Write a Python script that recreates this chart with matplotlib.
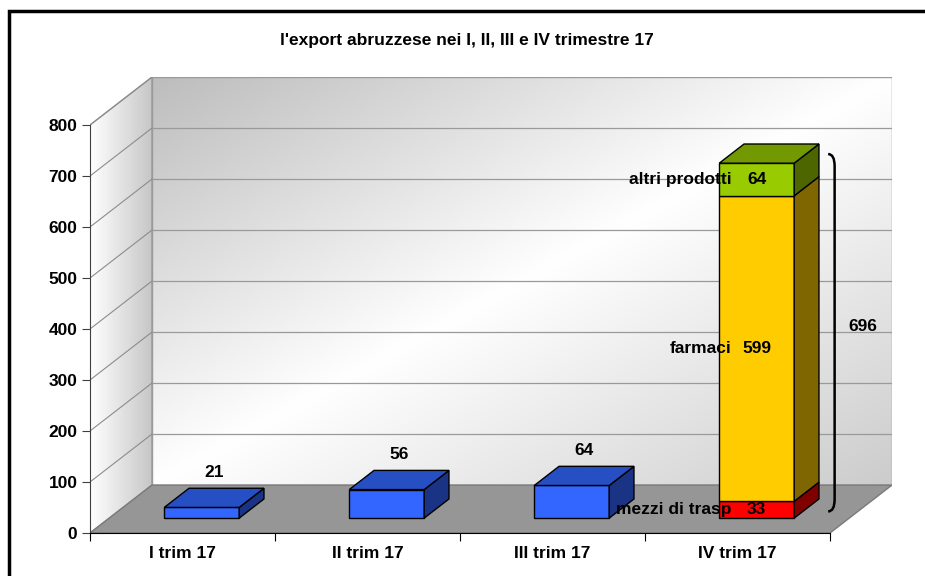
import numpy as np
import matplotlib
matplotlib.use("Agg")
import matplotlib.pyplot as plt
from matplotlib.patches import Polygon, Rectangle, PathPatch
from matplotlib.path import Path

plt.rcParams['font.family'] = ['Liberation Sans', 'DejaVu Sans']
plt.rcParams['font.weight'] = 'bold'

title = "l'export abruzzese nei I, II, III e IV trimestre 17"
categories = ["I trim 17", "II trim 17", "III trim 17", "IV trim 17"]
single_values = [21, 56, 64]          # first three quarters, one bar each
stack_names = ["mezzi di trasp", "farmaci", "altri prodotti"]
stack_values = [33, 599, 64]           # IV quarter, stacked
stack_total = 696
yticks = list(range(0, 900, 100))

# pseudo-3D geometry (data units)
DX, DY = 0.335, 94.0     # depth offset of the back wall
D0, D1 = 0.31, 0.71      # bar depth range
BW = 0.405               # bar width

blue = ('#3366ff', '#264fc4', '#1a3385')
stack_cols = [('#ff0000', '#cc0000', '#800000'),
              ('#ffcc00', '#cca300', '#806600'),
              ('#99cc00', '#739900', '#4d6600')]

fig = plt.figure(figsize=(9.25, 5.76), dpi=100)
W, H = 925, 576
xmax, ymax = 4 + DX, 800 + DY
ax = fig.add_axes([90 / W, 43 / H, xmax * 185 / W, ymax * 0.51 / H])
ax.set_xlim(0, xmax)
ax.set_ylim(0, ymax)

# back wall gradient
nx, ny = 300, 200
u = np.linspace(0, 1, nx)[None, :]
v = np.linspace(0, 1, ny)[:, None]
s = (u + v) / 2
g = np.where(s < 0.5, 0.74 + 0.26 * (s / 0.5), 1.0 - 0.2 * ((s - 0.5) / 0.5))
ax.imshow(np.dstack([g, g, g]), extent=(DX, xmax, DY, ymax), origin='upper',
          aspect='auto', zorder=0, interpolation='bilinear')
ax.add_patch(Rectangle((DX, DY), 4, 800, fill=False, ec='#9a9a9a', lw=1, zorder=1))

# side wall gradient
side = Polygon([(0, 0), (DX, DY), (DX, ymax), (0, 800)], closed=True,
               fc='none', ec='#9a9a9a', lw=1, zorder=1)
ax.add_patch(side)
gs = np.linspace(1.0, 0.78, 100)[None, :].repeat(10, axis=0)
im = ax.imshow(np.dstack([gs, gs, gs]), extent=(0, DX, 0, ymax), origin='upper',
               aspect='auto', zorder=0, interpolation='bilinear')
im.set_clip_path(side)

# floor
ax.add_patch(Polygon([(0, 0), (4, 0), (xmax, DY), (DX, DY)], closed=True,
                     fc='#969696', ec='#7a7a7a', lw=1, zorder=1))

# gridlines
for t in yticks[1:]:
    ax.plot([0, DX], [t, t + DY], color='#8c8c8c', lw=0.8, zorder=1)
    if t < 800:
        ax.plot([DX, xmax], [t + DY, t + DY], color='#9a9a9a', lw=0.9, zorder=1)


def box(c, y0, y1, cols, top=True, z=3):
    x0 = c - BW / 2 + D0 * DX
    x1 = c + BW / 2 + D0 * DX
    ddx = (D1 - D0) * DX
    ddy = (D1 - D0) * DY
    f0, f1 = y0 + D0 * DY, y1 + D0 * DY
    ax.add_patch(Polygon([(x0, f0), (x1, f0), (x1, f1), (x0, f1)], closed=True,
                         fc=cols[0], ec='black', lw=1, zorder=z))
    ax.add_patch(Polygon([(x1, f0), (x1 + ddx, f0 + ddy), (x1 + ddx, f1 + ddy), (x1, f1)],
                         closed=True, fc=cols[2], ec='black', lw=1, zorder=z))
    if top:
        ax.add_patch(Polygon([(x0, f1), (x1, f1), (x1 + ddx, f1 + ddy), (x0 + ddx, f1 + ddy)],
                             closed=True, fc=cols[1], ec='black', lw=1, zorder=z))


lab = dict(fontsize=12.5, fontweight='bold', zorder=6)

for i, val in enumerate(single_values):
    c = i + 0.5
    box(c, 0, val, blue)
    ax.text(c + 0.51 * DX, val + 98, str(val), ha='center', va='center', **lab)

c4 = 3.5
base = 0
xc = c4 + D0 * DX
for k, (name, val) in enumerate(zip(stack_names, stack_values)):
    box(c4, base, base + val, stack_cols[k], top=(k == len(stack_values) - 1))
    ym = base + val / 2 + D0 * DY
    ax.text(xc, ym, str(val), ha='center', va='center', **lab)
    ax.text(xc - 0.135, ym, name, ha='right', va='center', **lab)
    base += val

# bracket with total
xb, yt, yb = 4.025, stack_total + DY * 0.5, DY * 0.45
cw, ch = 0.035, 24
verts = [(xb - cw, yt), (xb, yt), (xb, yt - ch), (xb, yb + ch), (xb, yb), (xb - cw, yb)]
codes = [Path.MOVETO, Path.CURVE3, Path.CURVE3, Path.LINETO, Path.CURVE3, Path.CURVE3]
ax.add_patch(PathPatch(Path(verts, codes), fc='none', ec='black', lw=1.8, zorder=6))
ax.text(4.18, stack_total / 2 + DY * 0.6, str(stack_total), ha='center', va='center', **lab)

# axes
for sp in ['top', 'right']:
    ax.spines[sp].set_visible(False)
ax.spines['left'].set_bounds(0, 800)
ax.spines['bottom'].set_bounds(0, 4)
ax.spines['left'].set_color('#404040')
ax.spines['left'].set_zorder(5)
ax.spines['bottom'].set_zorder(5)
ax.set_yticks(yticks)
ax.set_yticklabels([str(t) for t in yticks], fontsize=12.5, fontweight='bold')
ax.set_xticks([0, 1, 2, 3, 4])
ax.set_xticklabels([])
ax.set_xticks([0.5, 1.5, 2.5, 3.5], minor=True)
ax.set_xticklabels(categories, minor=True, fontsize=12.5, fontweight='bold')
ax.tick_params(axis='y', direction='out', length=6, pad=3, color='#404040')
ax.tick_params(axis='x', which='major', direction='out', length=6, color='black')
ax.tick_params(axis='x', which='minor', length=0, pad=9)
ax.patch.set_alpha(0)

fig.text(467 / W, 1 - 40 / H, title, ha='center', va='center', fontsize=12.5, fontweight='bold')

# outer frame of the chart area (cut by the image edge on right and bottom)
fig.patches.append(Rectangle((9 / W, -0.1), 1.2, 1 - 11 / H + 0.1, transform=fig.transFigure,
                             fill=False, ec='black', lw=2.5, zorder=10))

fig.savefig("out.png", dpi=100)
